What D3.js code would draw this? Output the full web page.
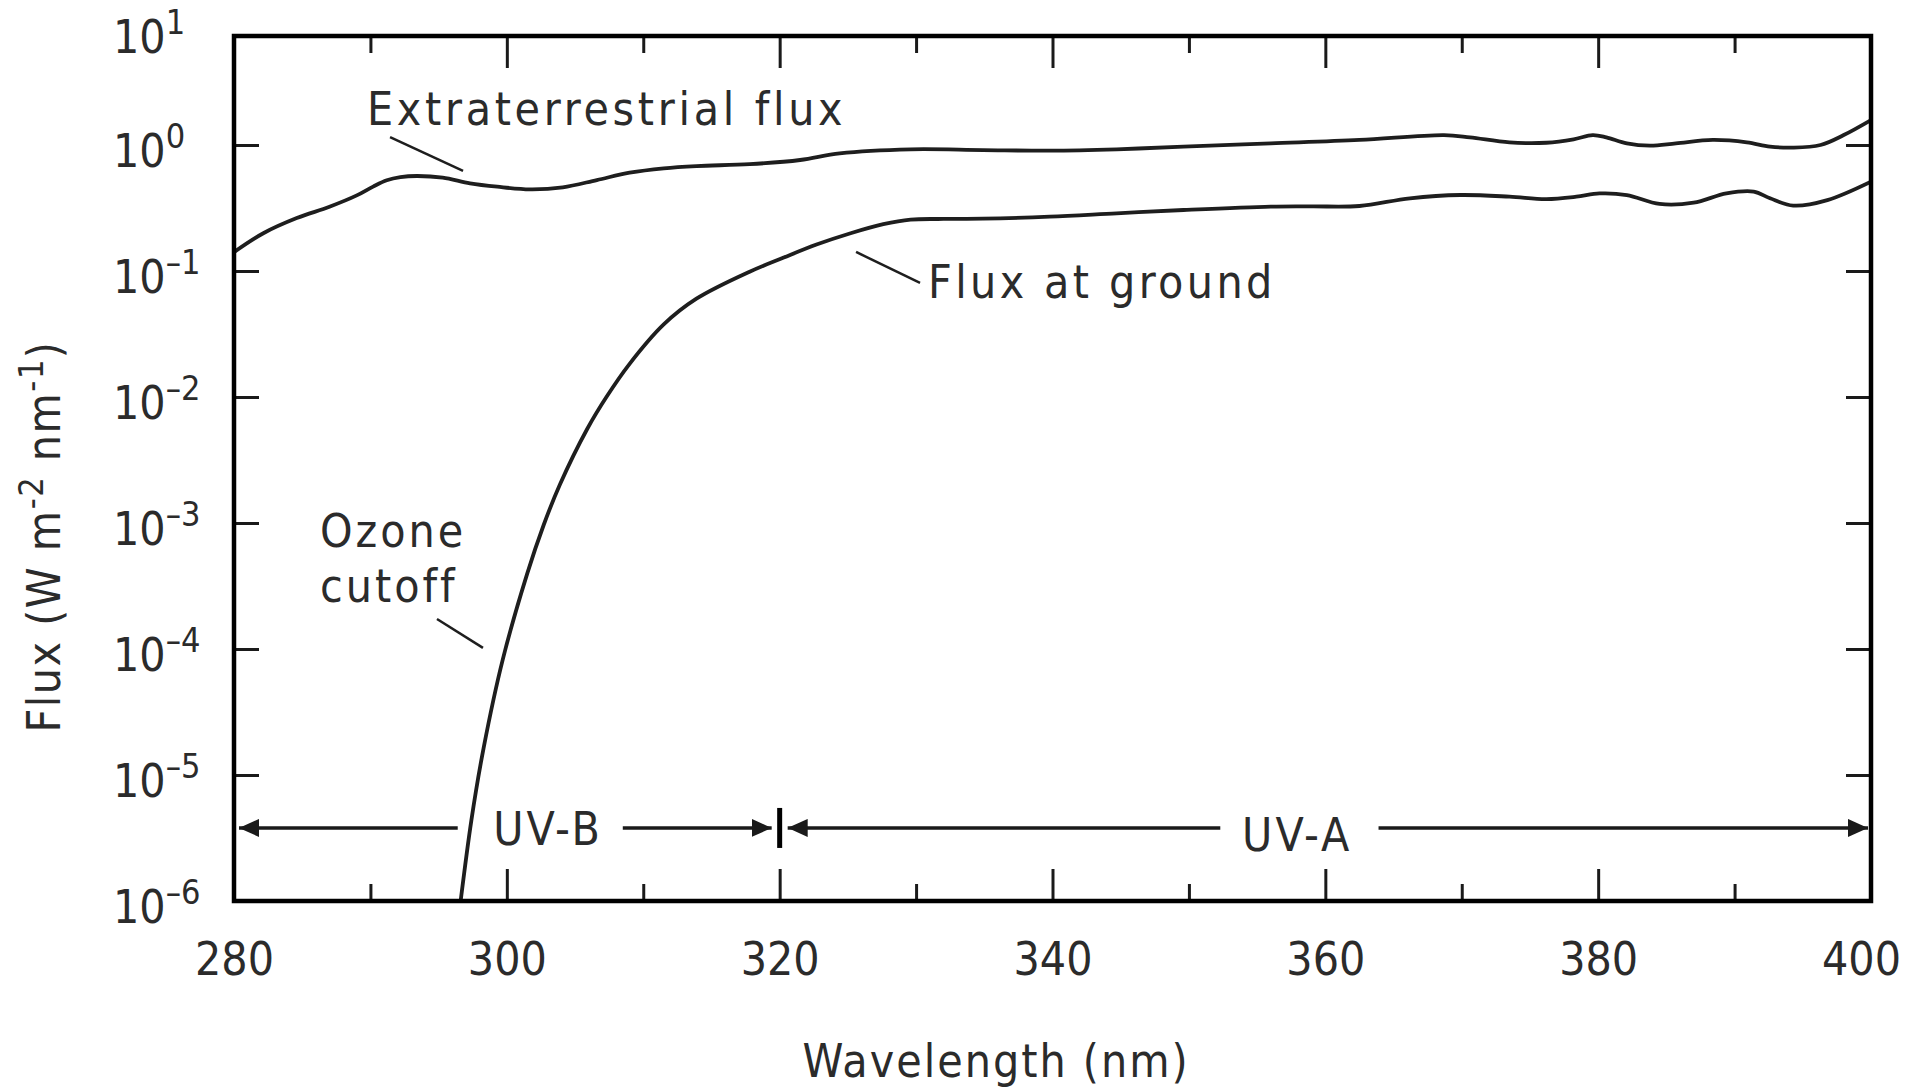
<!DOCTYPE html>
<html>
<head>
<meta charset="utf-8">
<script src="https://cdn.jsdelivr.net/npm/d3@7"></script>
<style>
body { margin: 0; background: #fff; }
svg text { font-family: "DejaVu Sans Condensed", "DejaVu Sans", sans-serif; font-stretch: condensed; fill: #2b2b2b; }
</style>
</head>
<body>
<div id="chart"></div>
<script>
// values: wavelength (nm) and flux (W m-2 nm-1)
var extraWl = [280, 282.15, 284.6, 287, 289, 290.2, 291.2, 292.2, 293.4, 295.3, 297.3, 299.3, 301.7, 304.1, 306.6, 309, 311.5, 313.9, 317.8, 321.5, 324.4, 329.6, 334.9, 339.8, 344.7, 349.6, 356, 362.5, 368.7, 370.6, 373.5, 376.2, 378.2, 379.6, 380.6, 382.1, 383.8, 385.7, 388.4, 390.9, 392.6, 394.3, 396.3, 398, 400];
var extraFlux = [0.1413, 0.1995, 0.263, 0.3236, 0.3981, 0.4677, 0.5248, 0.5559, 0.5675, 0.5508, 0.4966, 0.4667, 0.4446, 0.4613, 0.5272, 0.6026, 0.6531, 0.6808, 0.7047, 0.7603, 0.859, 0.9247, 0.912, 0.9016, 0.9247, 0.9705, 1.0304, 1.0965, 1.1995, 1.1508, 1.0495, 1.0423, 1.1092, 1.1995, 1.1508, 1.0304, 0.9886, 1.0304, 1.0965, 1.0495, 0.9705, 0.9528, 1.0, 1.1995, 1.5776];

var groundWl = [296.5, 297.4, 298.3, 299.7, 301.5, 302.7, 303.9, 305.9, 307.3, 309, 311.5, 313.9, 317.8, 320.3, 322.7, 325.2, 327.6, 329.6, 332, 334.9, 339.8, 344.7, 349.6, 356, 359, 362.5, 366.2, 369.9, 373.5, 376.2, 378.4, 380.1, 382.1, 384.5, 387, 389.4, 391.4, 392.6, 394.3, 396.8, 400];
var groundFlux = [7.94e-7, 4.365e-6, 1.644e-5, 8.24e-5, 3.981e-4, 9.64e-4, 2.032e-3, 5.598e-3, 1.0e-2, 1.834e-2, 3.767e-2, 6.026e-2, 9.874e-2, 0.1279, 0.1622, 0.1995, 0.2355, 0.2559, 0.2588, 0.26, 0.2698, 0.2871, 0.3048, 0.3243, 0.3258, 0.3281, 0.3776, 0.4009, 0.389, 0.3724, 0.389, 0.413, 0.4009, 0.3404, 0.3483, 0.413, 0.4266, 0.3776, 0.3304, 0.3656, 0.5117];

var xMajorTicks = [280, 300, 320, 340, 360, 380, 400];
var xMinorTicks = [290, 310, 330, 350, 370, 390];
var yTicks = [1e-6, 1e-5, 1e-4, 1e-3, 1e-2, 1e-1, 1];
var yTickExponents = [-6, -5, -4, -3, -2, -1, 0];
var yTopExponent = 1;

var bandNames = ["UV-B", "UV-A"];
var bandEdges = [280, 320, 400];

var width = 1909, height = 1090;
var margin = {top: 36, right: 38, bottom: 189, left: 234};
var w = width - margin.left - margin.right;
var h = height - margin.top - margin.bottom;

var svg = d3.select("#chart").append("svg")
	.attr("width", width)
	.attr("height", height);

var defs = svg.append("defs");
defs.append("clipPath").attr("id", "plotclip")
	.append("rect").attr("width", w).attr("height", h);
defs.append("marker")
	.attr("id", "arrowhead")
	.attr("viewBox", "0 0 20 18")
	.attr("refX", 20).attr("refY", 9)
	.attr("markerWidth", 20).attr("markerHeight", 18)
	.attr("markerUnits", "userSpaceOnUse")
	.attr("orient", "auto")
	.append("path").attr("d", "M0,0L20,9L0,18Z").attr("fill", "#1a1a1a");

var g = svg.append("g").attr("transform", "translate(" + margin.left + "," + margin.top + ")");

var x = d3.scaleLinear().domain([280, 400]).range([0, w]);
// the drawn frame stops below 10^1, the top edge is labelled 10^1 anyway
var y = d3.scaleLog().domain([1e-6, 7.33]).range([h, 0]);

//ticks, all pointing inwards
function styleAxis(sel){
	sel.select(".domain").remove();
	sel.selectAll(".tick line").attr("stroke", "#1a1a1a").attr("stroke-width", 3);
}

var bottom = g.append("g").attr("transform", "translate(0," + h + ")")
	.call(d3.axisBottom(x).tickValues(xMajorTicks).tickSize(-32).tickPadding(41).tickFormat(d3.format("d")))
	.call(styleAxis);
bottom.selectAll("text").style("font-size", "46px").attr("fill", "#2b2b2b");
// last label sits a little inside, as in the figure
bottom.selectAll(".tick text").filter(function(d){ return d === 400; }).attr("dx", -10);

g.append("g").attr("transform", "translate(0," + h + ")")
	.call(d3.axisBottom(x).tickValues(xMinorTicks).tickSize(-17).tickFormat(""))
	.call(styleAxis);
g.append("g")
	.call(d3.axisTop(x).tickValues(xMajorTicks.slice(1, -1)).tickSize(-32).tickFormat(""))
	.call(styleAxis);
g.append("g")
	.call(d3.axisTop(x).tickValues(xMinorTicks).tickSize(-17).tickFormat(""))
	.call(styleAxis);

function powerLabel(text, exp){
	text.text(null);
	text.append("tspan").text("10");
	text.append("tspan").attr("dy", -19).style("font-size", "34px").text(exp < 0 ? "\u2013" + (-exp) : exp);
}

var left = g.append("g")
	.call(d3.axisLeft(y).tickValues(yTicks).tickSize(-25))
	.call(styleAxis);
left.selectAll(".tick text")
	.attr("x", -121).attr("y", 21).attr("dy", null)
	.attr("text-anchor", "start").style("font-size", "46px").attr("fill", "#2b2b2b")
	.each(function(d, i){ powerLabel(d3.select(this), yTickExponents[i]); });
left.append("text")
	.attr("x", -121).attr("y", y.range()[1] + 17)
	.attr("text-anchor", "start").style("font-size", "46px")
	.call(powerLabel, yTopExponent);

g.append("g").attr("transform", "translate(" + w + ",0)")
	.call(d3.axisRight(y).tickValues(yTicks.slice(1)).tickSize(-25).tickFormat(""))
	.call(styleAxis);

//curves
var line = d3.line()
	.x(function(d){ return x(d[0]); })
	.y(function(d){ return y(d[1]); })
	.curve(d3.curveCatmullRom.alpha(0.5));

var curves = g.append("g").attr("clip-path", "url(#plotclip)");
curves.append("path")
	.datum(d3.zip(extraWl, extraFlux))
	.attr("d", line)
	.attr("fill", "none").attr("stroke", "#1e1e1e").attr("stroke-width", 3.8);
curves.append("path")
	.datum(d3.zip(groundWl, groundFlux))
	.attr("d", line)
	.attr("fill", "none").attr("stroke", "#1e1e1e").attr("stroke-width", 3.8);

//frame
g.append("rect")
	.attr("width", w).attr("height", h)
	.attr("fill", "none").attr("stroke", "#000").attr("stroke-width", 4.5);

//UV bands, arrows broken around the label
var arrowY = y(3.8e-6);
var bandLayout = [
	{gapFrom: 296.4, gapTo: 308.5, textAt: 299.0, dy: 17},
	{gapFrom: 352.3, gapTo: 363.9, textAt: 353.9, dy: 23}
];
var bands = g.append("g");
bandNames.forEach(function(name, i){
	var a = x(bandEdges[i]), b = x(bandEdges[i + 1]);
	var lay = bandLayout[i];
	var insetA = i === 0 ? 5 : 8, insetB = i === bandNames.length - 1 ? 3 : 8;
	bands.append("line")
		.attr("x1", x(lay.gapFrom)).attr("x2", a + insetA)
		.attr("y1", arrowY).attr("y2", arrowY)
		.attr("stroke", "#1a1a1a").attr("stroke-width", 3.5)
		.attr("marker-end", "url(#arrowhead)");
	bands.append("line")
		.attr("x1", x(lay.gapTo)).attr("x2", b - insetB)
		.attr("y1", arrowY).attr("y2", arrowY)
		.attr("stroke", "#1a1a1a").attr("stroke-width", 3.5)
		.attr("marker-end", "url(#arrowhead)");
	bands.append("text")
		.attr("x", x(lay.textAt)).attr("y", arrowY + lay.dy)
		.style("font-size", "46px").style("letter-spacing", "3px")
		.text(name);
});
bands.append("line")
	.attr("x1", x(bandEdges[1])).attr("x2", x(bandEdges[1]))
	.attr("y1", arrowY - 20).attr("y2", arrowY + 20)
	.attr("stroke", "#000").attr("stroke-width", 5);

//curve labels with leader lines
var notes = [
	{lines: ["Extraterrestrial flux"], at: [289.75, 1.442], from: [291.44, 1.157], to: [296.79, 0.622], spacing: 3.7},
	{lines: ["Flux at ground"], at: [330.87, 0.0611], from: [325.6, 0.1416], to: [330.29, 0.0804], spacing: 3.4},
	{lines: ["Ozone", "cutoff"], at: [286.3, 6.46e-4], from: [294.88, 1.73e-4], to: [298.25, 1.02e-4], spacing: 3}
];
notes.forEach(function(n){
	var t = g.append("text")
		.attr("x", x(n.at[0])).attr("y", y(n.at[1]))
		.style("font-size", "46px").style("letter-spacing", n.spacing + "px");
	n.lines.forEach(function(s, i){
		t.append("tspan").attr("x", x(n.at[0])).attr("dy", i === 0 ? 0 : 55).text(s);
	});
	g.append("line")
		.attr("x1", x(n.from[0])).attr("y1", y(n.from[1]))
		.attr("x2", x(n.to[0])).attr("y2", y(n.to[1]))
		.attr("stroke", "#1e1e1e").attr("stroke-width", 2.5);
});

//axis titles
svg.append("text")
	.attr("x", 996).attr("y", 1077)
	.attr("text-anchor", "middle")
	.style("font-size", "46px").style("letter-spacing", "2px")
	.text("Wavelength (nm)");

var yTitle = svg.append("text")
	.attr("transform", "translate(60," + (margin.top + h / 2 + 68) + ") rotate(-90)")
	.attr("text-anchor", "middle")
	.style("font-size", "46px").style("letter-spacing", "1.5px");
yTitle.append("tspan").text("Flux (W m");
yTitle.append("tspan").attr("dy", -17).style("font-size", "34px").text("-2");
yTitle.append("tspan").attr("dy", 17).text(" nm");
yTitle.append("tspan").attr("dy", -17).style("font-size", "34px").text("-1");
yTitle.append("tspan").attr("dy", 17).text(")");
</script>
</body>
</html>
